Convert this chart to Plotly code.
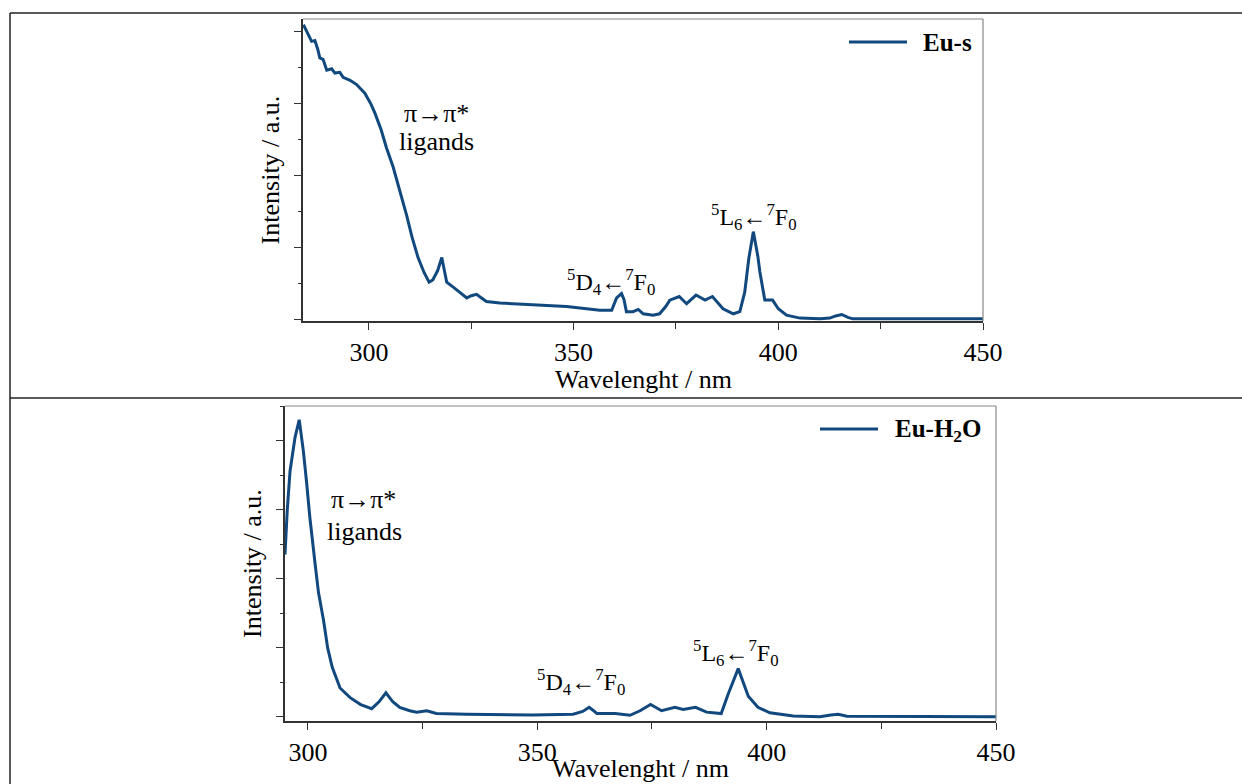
import plotly.graph_objects as go

W, H = 1242, 784
FONT = "Liberation Serif, Times New Roman, DejaVu Serif, serif"
LINE = "#11497f"

# ---------------- data ----------------
wl_s = [284.0, 285.0, 286.0, 286.8, 287.5, 288.0, 288.8, 289.7, 290.9, 291.7, 292.9, 293.7,
        295.4, 297.0, 299.0, 300.5, 301.5, 303.0, 304.3, 305.9, 307.6, 309.2, 310.5, 312.0,
        313.5, 314.7, 315.6, 316.8, 317.8, 318.3, 319.0, 320.6, 322.5, 323.9, 325.0, 326.3,
        327.5, 328.7, 332.0, 340.0, 348.3, 356.4, 359.3, 360.5, 361.7, 362.3, 362.9, 364.5,
        365.8, 367.0, 369.4, 371.0, 372.5, 373.5, 375.8, 377.6, 379.9, 382.1, 383.9, 386.5,
        389.0, 390.6, 391.8, 392.8, 393.9, 395.0, 395.5, 396.7, 398.6, 400.0, 402.0, 405.3,
        410.2, 412.6, 414.0, 415.5, 417.0, 418.2, 430.0, 450.0]
int_s = [4.09, 3.98, 3.86, 3.87, 3.75, 3.63, 3.61, 3.46, 3.48, 3.42, 3.43, 3.36,
         3.32, 3.26, 3.14, 2.99, 2.86, 2.63, 2.38, 2.12, 1.78, 1.45, 1.15, 0.86,
         0.65, 0.52, 0.55, 0.68, 0.86, 0.72, 0.52, 0.45, 0.37, 0.30, 0.33, 0.35,
         0.30, 0.25, 0.23, 0.21, 0.18, 0.13, 0.13, 0.30, 0.36, 0.28, 0.11, 0.11,
         0.14, 0.08, 0.06, 0.08, 0.18, 0.27, 0.32, 0.22, 0.34, 0.27, 0.32, 0.15,
         0.08, 0.11, 0.38, 0.85, 1.22, 0.88, 0.66, 0.27, 0.27, 0.15, 0.06, 0.02,
         0.01, 0.02, 0.05, 0.07, 0.03, 0.01, 0.01, 0.01]

wl_w = [295.0, 295.5, 296.1, 297.2, 298.1, 299.0, 299.7, 300.4, 301.5, 302.3, 303.4, 304.3,
        305.3, 307.0, 309.2, 311.5, 313.9, 315.5, 317.0, 318.5, 320.0, 322.2, 323.7, 325.9,
        328.0, 334.6, 349.1, 357.8, 359.9, 361.3, 362.3, 363.0, 365.1, 367.0, 370.2, 372.4,
        374.7, 377.1, 380.0, 381.8, 384.5, 386.9, 390.1, 391.6, 393.8, 396.0, 398.1, 400.7,
        405.8, 411.6, 414.0, 415.6, 417.5, 450.0]
int_w = [2.35, 3.00, 3.56, 4.05, 4.30, 3.85, 3.40, 2.90, 2.25, 1.80, 1.40, 1.00,
         0.72, 0.42, 0.28, 0.18, 0.12, 0.22, 0.35, 0.22, 0.14, 0.09, 0.07, 0.09,
         0.05, 0.04, 0.03, 0.04, 0.08, 0.14, 0.09, 0.05, 0.05, 0.05, 0.025, 0.09,
         0.18, 0.09, 0.14, 0.11, 0.14, 0.07, 0.05, 0.33, 0.70, 0.30, 0.14, 0.06,
         0.015, 0.005, 0.03, 0.04, 0.01, 0.005]

x_tickvals = [300, 350, 400, 450]
x_ticktext = ["300", "350", "400", "450"]
x_minor = [325, 375, 425]

series_names = ["Eu-s", "Eu-H<sub>2</sub>O"]
x_title = "Wavelenght / nm"
y_title = "Intensity / a.u."
lbl_pi = "π→π*"
lbl_lig = "ligands"
lbl_D = "<sup>5</sup>D<sub>4</sub>←<sup>7</sup>F<sub>0</sub>"
lbl_L = "<sup>5</sup>L<sub>6</sub>←<sup>7</sup>F<sub>0</sub>"


def px(x):
    return x / W


def py(y):
    return 1 - y / H


fig = go.Figure()
fig.add_trace(go.Scatter(x=wl_s, y=int_s, mode="lines", name=series_names[0],
                         line=dict(color=LINE, width=3), xaxis="x", yaxis="y",
                         showlegend=False))
fig.add_trace(go.Scatter(x=wl_w, y=int_w, mode="lines", name=series_names[1],
                         line=dict(color=LINE, width=3), xaxis="x2", yaxis="y2",
                         showlegend=False))

tickfont = dict(family=FONT, size=26, color="black")
titlefont = dict(family=FONT, size=26, color="black")


def xax(domain, rng, anchor):
    return dict(domain=domain, range=rng, anchor=anchor, automargin=False, showline=True,
                linecolor="#333", linewidth=1.5, mirror=False, ticks="outside", ticklen=7,
                tickwidth=1.2, tickcolor="#333", tickvals=x_tickvals, ticktext=x_ticktext,
                minor=dict(tickvals=x_minor, ticks="outside", ticklen=6, tickcolor="#333", tickwidth=1.2),
                showgrid=False, zeroline=False, tickfont=tickfont)


def yax(domain, rng, anchor):
    return dict(domain=domain, range=rng, anchor=anchor, automargin=False, showline=True,
                linecolor="#333", linewidth=1.5, mirror=False, ticks="outside", ticklen=7,
                tickwidth=1.2, tickcolor="#333", tick0=0, dtick=1, showticklabels=False,
                minor=dict(dtick=0.5, ticks="outside", ticklen=3.5, tickcolor="#333", tickwidth=1.2),
                showgrid=False, zeroline=False,
                title=dict(text=y_title, font=titlefont, standoff=7))


fig.update_layout(
    width=W, height=H, margin=dict(l=0, r=0, t=0, b=0, autoexpand=False),
    paper_bgcolor="white", plot_bgcolor="white",
    font=dict(family=FONT, color="black"),
    xaxis=xax([px(303), px(983)], [283.9, 450], "y"),
    yaxis=yax([py(321), py(19)], [-0.02, 4.17], "x"),
    xaxis2=xax([px(285), px(996)], [295, 450], "y2"),
    yaxis2=yax([py(721), py(406)], [-0.058, 4.50], "x2"),
)

shapes = []
# table borders
bc = "#222"
shapes.append(dict(type="line", xref="paper", yref="paper", x0=px(10), x1=1, y0=py(13), y1=py(13), line=dict(color=bc, width=1.5)))
shapes.append(dict(type="line", xref="paper", yref="paper", x0=px(10), x1=1, y0=py(398), y1=py(398), line=dict(color=bc, width=1.5)))
shapes.append(dict(type="line", xref="paper", yref="paper", x0=px(10), x1=px(10), y0=0, y1=py(13), line=dict(color=bc, width=1.5)))
# frame top/right (grey)
for xa, ya in (("x", "y"), ("x2", "y2")):
    shapes.append(dict(type="line", xref=f"{xa} domain", yref=f"{ya} domain", x0=0, x1=1, y0=1, y1=1, line=dict(color="#888", width=1.2)))
    shapes.append(dict(type="line", xref=f"{xa} domain", yref=f"{ya} domain", x0=1, x1=1, y0=0, y1=1, line=dict(color="#888", width=1.2)))
# legend lines
shapes.append(dict(type="line", xref="paper", yref="paper", x0=px(849), x1=px(907), y0=py(42), y1=py(42), line=dict(color=LINE, width=3)))
shapes.append(dict(type="line", xref="paper", yref="paper", x0=px(820), x1=px(878), y0=py(429), y1=py(429), line=dict(color=LINE, width=3)))

ann = []
ann.append(dict(xref="paper", yref="paper", x=px(921), y=py(42), text="<b>" + series_names[0] + "</b>",
                showarrow=False, xanchor="left", yanchor="middle", font=dict(family=FONT, size=25, color="black")))
ann.append(dict(xref="paper", yref="paper", x=px(893), y=py(430), text="<b>" + series_names[1] + "</b>",
                showarrow=False, xanchor="left", yanchor="middle", font=dict(family=FONT, size=25, color="black")))
# x-axis titles
ann.append(dict(xref="x domain", yref="paper", x=0.5, y=py(380), text=x_title, showarrow=False,
                xanchor="center", yanchor="middle", font=titlefont))
ann.append(dict(xref="x2 domain", yref="paper", x=0.5, y=0, text=x_title, showarrow=False,
                xanchor="center", yanchor="bottom", borderpad=0, font=titlefont))


def lab(text, x, y, xr, yr, size=26):
    ann.append(dict(xref=xr, yref=yr, x=x, y=y, text=text, showarrow=False, xanchor="center",
                    yanchor="middle", font=dict(family=FONT, size=size, color="black")))


lab(lbl_pi, 316.4, 2.86, "x", "y")
lab(lbl_lig, 316.6, 2.47, "x", "y")
lab(lbl_D, 359.1, 0.52, "x", "y", 24)
lab(lbl_L, 394.0, 1.42, "x", "y", 24)
lab(lbl_pi, 312.2, 3.14, "x2", "y2")
lab(lbl_lig, 312.4, 2.68, "x2", "y2")
lab(lbl_D, 359.5, 0.50, "x2", "y2", 24)
lab(lbl_L, 393.3, 0.93, "x2", "y2", 24)

fig.update_layout(shapes=shapes, annotations=ann)
fig.write_html("out.html",
               post_script="document.body.style.margin='0';document.body.style.overflow='hidden';")
